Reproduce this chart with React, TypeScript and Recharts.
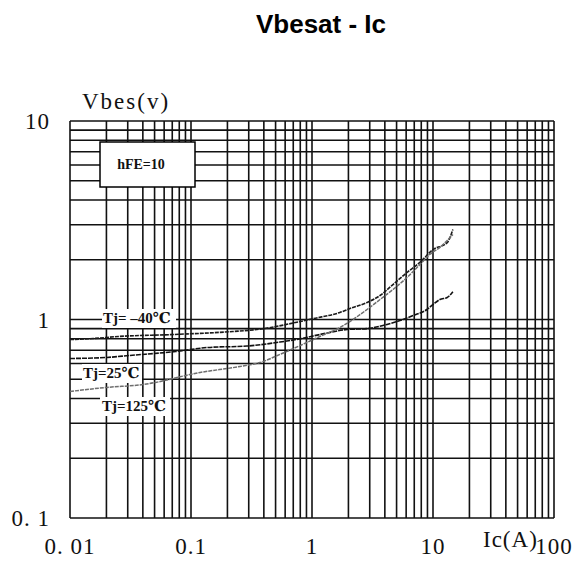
import React from 'react';
import { LineChart, Line, XAxis, YAxis, CartesianGrid } from 'recharts';

// grid positions (log paper)
const xTicks = [
  0.01, 0.02, 0.03, 0.04, 0.05, 0.06, 0.07, 0.08, 0.09,
  0.1, 0.2, 0.3, 0.4, 0.5, 0.6, 0.7, 0.8, 0.9,
  1, 2, 3, 4, 5, 6, 7, 8, 9,
  10, 20, 30, 40, 50, 60, 70, 80, 90, 100,
];
const yTicks = [
  0.1, 0.2, 0.3, 0.4, 0.5, 0.6, 0.7, 0.8, 0.9,
  1, 2, 3, 4, 5, 6, 7, 8, 9, 10,
];

const xLabelValues = [0.01, 0.1, 1, 10, 100];
const xLabelTexts = ['0. 01', '0.1', '1', '10', '100'];
const yLabelValues = [0.1, 1, 10];
const yLabelTexts = ['0. 1', '1', '10'];

// Tj = -40C
const icCold = [0.01, 0.0155, 0.025, 0.071, 0.222, 0.35, 0.8, 1.02, 1.7, 2.06, 2.85, 3.65, 4.67, 6.1, 7.8, 10, 13.1, 14.6];
const vbeCold = [0.793, 0.802, 0.821, 0.84, 0.87, 0.89, 0.977, 1.01, 1.085, 1.136, 1.218, 1.321, 1.5, 1.725, 1.94, 2.25, 2.44, 2.84];

// Tj = 25C
const icRoom = [0.01, 0.0202, 0.0313, 0.075, 0.138, 0.29, 0.544, 0.8, 1.16, 1.95, 2.85, 4.17, 5.33, 6.84, 8.9, 10, 11.4, 13.1, 14.6];
const vbeRoom = [0.636, 0.644, 0.659, 0.69, 0.723, 0.735, 0.77, 0.8, 0.84, 0.89, 0.9, 0.944, 0.988, 1.047, 1.123, 1.19, 1.261, 1.29, 1.38];

// Tj = 125C
const icHot = [0.01, 0.0202, 0.04, 0.119, 0.254, 0.372, 0.544, 0.8, 1.16, 1.7, 2.18, 2.85, 3.65, 4.67, 6.1, 7.8, 9.4, 11.4, 14.6];
const vbeHot = [0.434, 0.455, 0.47, 0.541, 0.58, 0.607, 0.667, 0.74, 0.821, 0.911, 1.0, 1.123, 1.261, 1.416, 1.628, 1.892, 2.125, 2.31, 2.68];

const toRows = (ic: number[], v: number[]) => ic.map((x, i) => ({ ic: x, vbe: v[i] }));

const serif = '"Liberation Serif", "DejaVu Serif", serif';

const XTick = (props: any) => {
  const { x, y, payload } = props;
  const i = xLabelValues.indexOf(payload.value);
  if (i < 0) return null;
  return (
    <text x={x} y={y} dy={28} textAnchor="middle" fontFamily={serif} fontSize={23} letterSpacing={1} fill="#111">
      {xLabelTexts[i]}
    </text>
  );
};

const YTick = (props: any) => {
  const { x, y, payload } = props;
  const i = yLabelValues.indexOf(payload.value);
  if (i < 0) return null;
  return (
    <text x={x - 12} y={y} dy={8} textAnchor="end" fontFamily={serif} fontSize={23} letterSpacing={1} fill="#111">
      {yLabelTexts[i]}
    </text>
  );
};

export default function App() {
  return (
    <div style={{ position: 'absolute', left: 0, top: 0, width: 578, height: 565, background: '#fff' }}>
      <LineChart width={578} height={565} margin={{ top: 121, right: 24, bottom: 0, left: 0 }}>
        <CartesianGrid stroke="#111" strokeWidth={1.6} />
        <XAxis
          dataKey="ic"
          type="number"
          scale="log"
          domain={[0.01, 100]}
          ticks={xTicks}
          interval={0}
          allowDataOverflow
          axisLine={false}
          tickLine={false}
          height={47}
          tick={<XTick />}
        />
        <YAxis
          dataKey="vbe"
          type="number"
          scale="log"
          domain={[0.1, 10]}
          ticks={yTicks}
          interval={0}
          allowDataOverflow
          axisLine={false}
          tickLine={false}
          width={70}
          tick={<YTick />}
        />
        <Line data={toRows(icCold, vbeCold)} dataKey="vbe" type="monotone" stroke="#1a1a1a" strokeWidth={1.6} strokeDasharray="4 1" dot={false} isAnimationActive={false} />
        <Line data={toRows(icRoom, vbeRoom)} dataKey="vbe" type="monotone" stroke="#111" strokeWidth={1.6} strokeDasharray="5 1" dot={false} isAnimationActive={false} />
        <Line data={toRows(icHot, vbeHot)} dataKey="vbe" type="monotone" stroke="#6e6e6e" strokeWidth={1.5} strokeDasharray="4 1" dot={false} isAnimationActive={false} />
      </LineChart>

      <svg width={578} height={565} style={{ position: 'absolute', left: 0, top: 0, pointerEvents: 'none' }}>
        <text x={321} y={33} textAnchor="middle" fontFamily='"Liberation Sans", Arial, sans-serif' fontWeight="bold" fontSize={26} fill="#000">
          Vbesat - Ic
        </text>
        <text x={82} y={109} fontFamily={serif} fontSize={23} letterSpacing={2} fill="#111">Vbes(v)</text>
        <text x={483} y={547} fontFamily={serif} fontSize={23} letterSpacing={1} fill="#111">Ic(A)</text>

        <rect x={100} y={142} width={95} height={45} fill="#fff" stroke="#000" strokeWidth={1.5} />
        <text x={141} y={169} textAnchor="middle" fontFamily={serif} fontWeight="bold" fontSize={14} fill="#111">hFE=10</text>

        <rect x={102} y={309} width={74} height={19} fill="#fff" />
        <text x={103} y={323} fontFamily={serif} fontWeight="bold" fontSize={15} fill="#111">Tj= –40℃</text>
        <rect x={82} y={364} width={60} height={19} fill="#fff" />
        <text x={83} y={378} fontFamily={serif} fontWeight="bold" fontSize={15} fill="#111">Tj=25℃</text>
        <rect x={100} y={397} width={70} height={19} fill="#fff" />
        <text x={102} y={411} fontFamily={serif} fontWeight="bold" fontSize={15} fill="#111">Tj=125℃</text>
      </svg>
    </div>
  );
}
